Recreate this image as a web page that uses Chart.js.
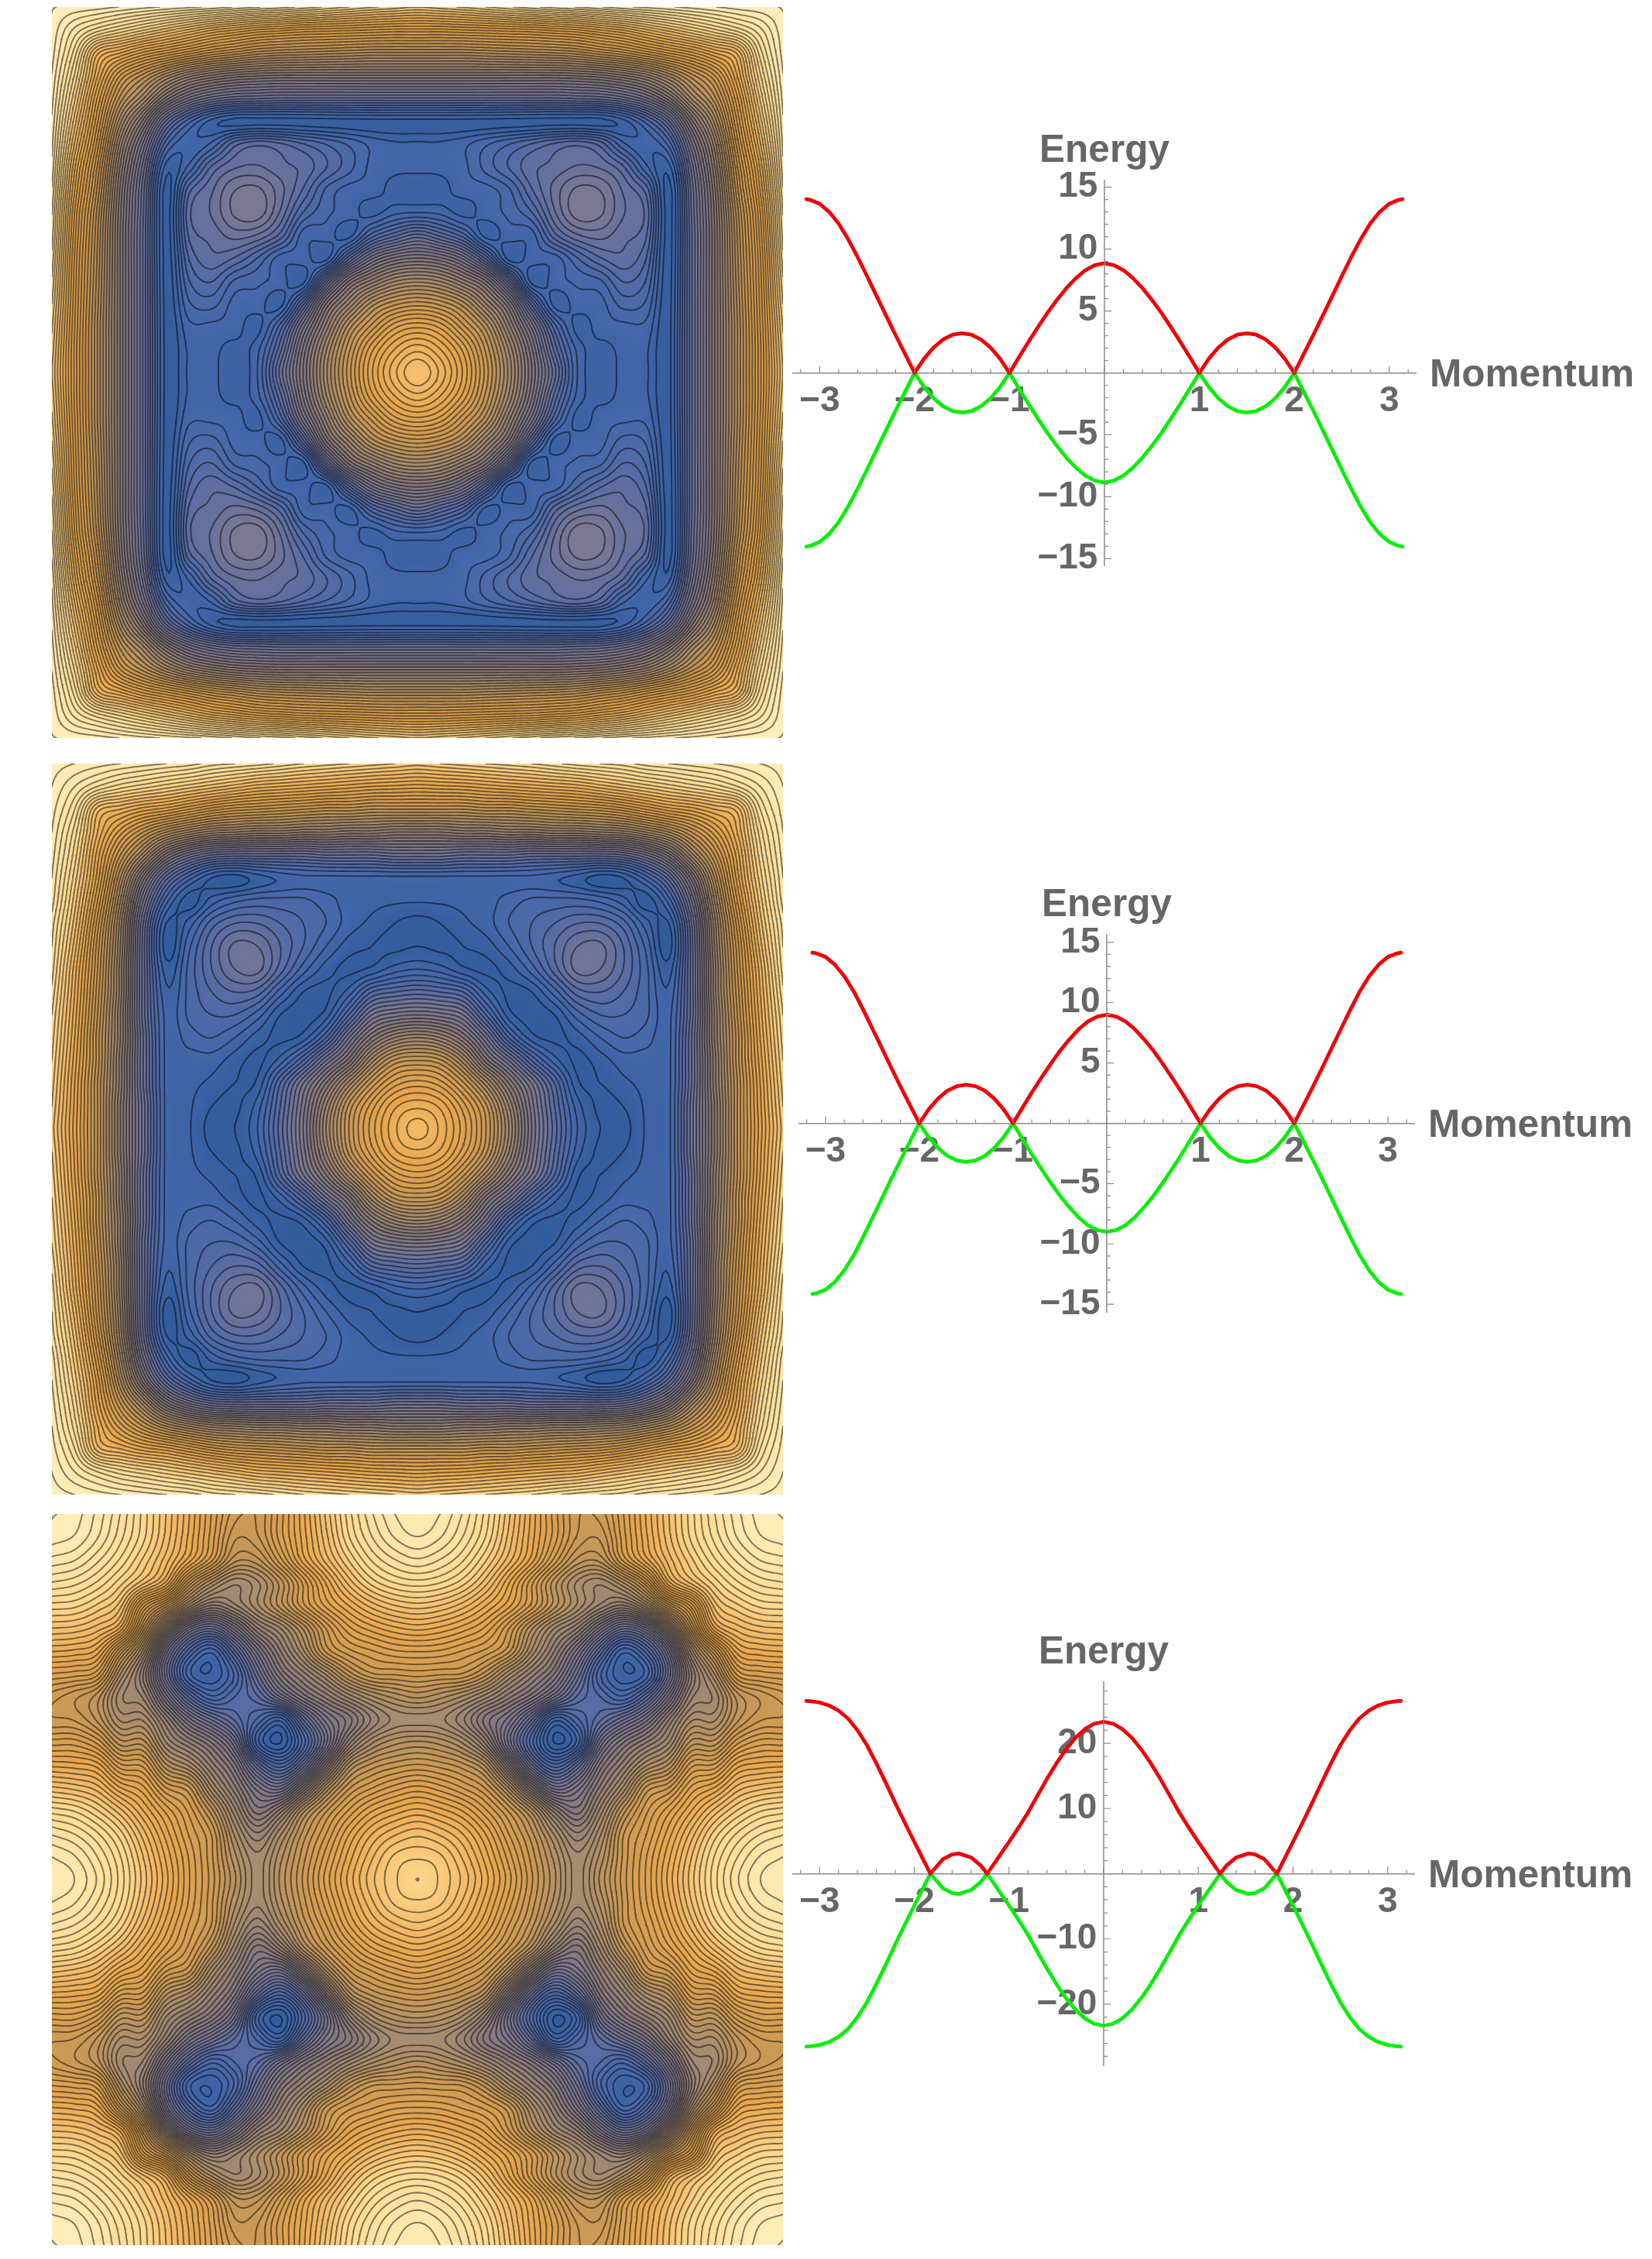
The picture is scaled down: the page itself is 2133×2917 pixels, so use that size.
<!DOCTYPE html>
<html>
<head>
<meta charset="utf-8">
<title>Energy bands</title>
<script src="https://cdn.jsdelivr.net/npm/chart.js@4/dist/chart.umd.js"></script>
<style>
html, body { margin: 0; background: #fff; }
body { position: relative; width: 2133px; height: 2917px; overflow: hidden; }
canvas { position: absolute; }
</style>
</head>
<body>
<canvas id="fieldA"></canvas>
<canvas id="fieldB"></canvas>
<canvas id="fieldC"></canvas>
<canvas id="bandsA"></canvas>
<canvas id="bandsB"></canvas>
<canvas id="bandsC"></canvas>
<script>
// Band curves, read for momentum >= 0 (the plots are mirror symmetric)
const momentumAB = [0,0.1,0.2,0.3,0.4,0.5,0.6,0.7,0.8,0.9,1,1.1,1.2,1.3,1.4,1.5,1.6,1.7,1.8,1.9,2,2.1,2.2,2.3,2.4,2.5,2.6,2.7,2.8,2.9,3,3.1,3.14];
const energyA = [8.85,8.7,8.3,7.65,6.85,5.9,4.85,3.7,2.5,1.27,0,1.15,2.05,2.7,3.08,3.2,3.08,2.7,2.05,1.15,0,1.52,3.05,4.62,6.2,7.8,9.35,10.8,12.05,13,13.65,13.97,14.03];
const energyB = [9,8.85,8.45,7.8,6.95,6,4.9,3.75,2.55,1.28,0,1.15,2.05,2.7,3.08,3.2,3.08,2.7,2.05,1.15,0,1.52,3.05,4.62,6.25,7.85,9.45,10.95,12.2,13.15,13.8,14.1,14.15];
const momentumC = [0,0.1,0.2,0.3,0.4,0.5,0.6,0.7,0.8,0.9,1,1.1,1.23,1.3,1.4,1.53,1.6,1.7,1.83,1.9,2,2.1,2.2,2.3,2.4,2.5,2.6,2.7,2.8,2.9,3,3.1,3.14];
const energyC = [23.3,23,22.15,20.8,19,16.9,14.5,11.95,9.35,7.05,4.85,2.75,0,1.3,2.5,3.1,2.95,2.2,0,2,4.9,7.8,10.8,13.9,16.9,19.7,22,23.8,25,25.8,26.25,26.45,26.5];

// Contour plot heights, 0-100, one triangle of the panel from the top-left corner to the centre
const heightA = [
  [100,99.5,99,98,97,96,95,94,92.5,91,90,88.5,87,85.5,84,83,82],
  [94,90,87,84,81,78,75,73,71,70,69,68.5,68,67.5,67,67],
  [77,73,69,66,63,60,58,56,55,54.5,54,53.5,53,53,53],
  [62,56,50,45,42,40,39,38.5,38.5,38.5,38.5,38.5,38.5,38.5],
  [48,38,31,27,25,24.5,24,24,24,24,24,24,24],
  [24,16,11,9.2,9.2,9.2,9.2,9.2,9.2,9.2,9.2,9.2],
  [12,14,20,22,21,19,17,15,13,12,12],
  [21,24,24.5,23,22,19,16,13,12.2,12.2],
  [27.8,28.3,25,20.5,15,12.8,12.6,11,10.5],
  [29,24,17,14,12.6,11,13,13.5],
  [20,12.6,12.6,11,18,22,25],
  [12.6,11,22,31,35.5,37],
  [25,37,43,47.5,49],
  [46,54,58,59.5],
  [61,67,69],
  [73,76],
  [80]
];
const heightB = [
  [100,99,98,97,96,95,94,92,91,90,88.5,87,86,85,84,83,82],
  [95,91,88,86,84,82,80,78,76,75,74,73,72,71,70.5,70],
  [78,75,72,70,67,64,62,61,60,59,58,58,57,57,57],
  [66,59,53,49,46,45,44,44,43,43,42,42,41,41],
  [48,36,29,25,24,24,24,24,25,25,25,26,26],
  [22,14,9,8,10,11.5,12.4,12.4,12.4,12.4,12.4,12.4],
  [8,12,14.5,15.6,15.6,15.4,14,12,11.6,11.3,11.2],
  [18,21,21,19,17,15,12,10.5,9,8.2],
  [25.5,25,21,17,13,10,9,8.5,9],
  [25.7,20,14,10,8.5,9.5,12,13],
  [14,9,8.5,12,19,21,22],
  [8,10,19,29,32,33],
  [17,29,39,45,47],
  [38,50,57.5,59],
  [59.5,66,68],
  [72.5,74.5],
  [78]
];
const heightC = [
  [100,99,96,91.5,86,80,73.6,66.7,61,60.5,66,73,80.5,87.6,93,96.5,98],
  [98,95,90.5,85.5,79.5,73,66,59,60,66,72.5,79.5,86.5,91.5,95,96.5],
  [92,88,83,77.5,71,64,56,56.5,63,71,77.5,83.5,88.5,91.5,93],
  [84,79,73,60,52,47.5,50,56,64,72,79,84,86.7,87.6],
  [66,58,48,42,45,50,56,63,69,73.5,77.5,80,81],
  [42,30,26,33,42,47,54,62,68,71,73,74],
  [18,13,22,33,42,50,59,63,65,66.6,67],
  [11,16,27,37,43,49,56,60,60.5,61],
  [19,22,29,36,41,46,50,52.5,54],
  [17,13,24,33,38,44,47.5,48],
  [9,18,30,43,50,53,54],
  [26,40,53,57.5,59.5,60.5],
  [52,60,63.5,66,67.5],
  [65.5,70,72.5,74],
  [75,78,79.5],
  [82,83],
  [85]
];
const contourStepA = 1.8;
const contourStepB = 2;
const contourStepC = 1.65;

// Colour ramp of the contour plots
const rampHeights = [0,8,13,20,28,38,47,60,72,80,86,95,100];
const rampColors = [[29,92,152],[50,92,156],[68,104,170],[88,108,165],[122,120,150],[135,122,125],[163,139,114],[205,154,85],[232,168,80],[245,192,112],[255,217,142],[255,229,168],[255,238,187]];

const labelGray = '#666666';
const axisGray = '#8a8a8a';
const bandRed = '#f00008';
const bandGreen = '#08ee08';

function rampColor(h) {
    let k = 0;
    while (k < rampHeights.length - 2 && h > rampHeights[k + 1]) k++;
    const t = Math.min(1, Math.max(0, (h - rampHeights[k]) / (rampHeights[k + 1] - rampHeights[k])));
    return rampColors[k].map((c, n) => c + (rampColors[k + 1][n] - c) * t);
}

// Whole 33x33 grid from the triangle
function fullGrid(tri) {
    const fold = i => (i <= 16 ? i : 32 - i);
    return (r, c) => {
        const a = fold(r), b = fold(c);
        return a <= b ? tri[a][b - a] : tri[b][a - b];
    };
}

function catmull(p0, p1, p2, p3, t) {
    return 0.5 * (2 * p1 + (p2 - p0) * t + (2 * p0 - 5 * p1 + 4 * p2 - p3) * t * t + (3 * p1 - p0 - 3 * p2 + p3) * t * t * t);
}

// Smooth field between the read values, only used for painting
function fineField(tri, sub) {
    const grid = fullGrid(tri);
    const at = (r, c) => {
        if (r < 0) return 2 * at(0, c) - at(-r, c);
        if (r > 32) return 2 * at(32, c) - at(64 - r, c);
        if (c < 0) return 2 * at(r, 0) - at(r, -c);
        if (c > 32) return 2 * at(r, 32) - at(r, 64 - c);
        return grid(r, c);
    };
    const n = 32 * sub + 1;
    const out = new Float32Array(n * n);
    for (let j = 0; j < n; j++) {
        const r0 = Math.min(31, Math.floor(j / sub)), tr = j / sub - r0;
        for (let i = 0; i < n; i++) {
            const c0 = Math.min(31, Math.floor(i / sub)), tc = i / sub - c0;
            const rows = [-1, 0, 1, 2].map(d => catmull(at(r0 + d, c0 - 1), at(r0 + d, c0), at(r0 + d, c0 + 1), at(r0 + d, c0 + 2), tc));
            out[j * n + i] = catmull(rows[0], rows[1], rows[2], rows[3], tr);
        }
    }
    return { n, values: out };
}

// Marching squares, gives a line dataset in axis units
function contourPoints(field, step) {
    const { n, values } = field;
    const pts = [];
    const toX = i => -1 + 2 * i / (n - 1);
    const toY = j => 1 - 2 * j / (n - 1);
    for (let level = step / 2; level < 100; level += step) {
        for (let j = 0; j < n - 1; j++) {
            for (let i = 0; i < n - 1; i++) {
                const a = values[j * n + i], b = values[j * n + i + 1];
                const c = values[(j + 1) * n + i + 1], d = values[(j + 1) * n + i];
                const hits = [];
                if ((a < level) !== (b < level)) hits.push({ x: toX(i + (level - a) / (b - a)), y: toY(j) });
                if ((b < level) !== (c < level)) hits.push({ x: toX(i + 1), y: toY(j + (level - b) / (c - b)) });
                if ((d < level) !== (c < level)) hits.push({ x: toX(i + (level - d) / (c - d)), y: toY(j + 1) });
                if ((a < level) !== (d < level)) hits.push({ x: toX(i), y: toY(j + (level - a) / (d - a)) });
                for (let h = 0; h + 1 < hits.length; h += 2) {
                    pts.push(hits[h], hits[h + 1], { x: NaN, y: NaN });
                }
            }
        }
    }
    return pts;
}

// Paints the smooth colours over the cell points, through the chart scales
const smoothCells = {
    id: 'smoothCells',
    afterDatasetDraw(chart, args, opts) {
        if (args.index !== 1) return;
        const { n, values } = opts.field;
        const off = document.createElement('canvas');
        off.width = n; off.height = n;
        const octx = off.getContext('2d');
        const img = octx.createImageData(n, n);
        for (let k = 0; k < values.length; k++) {
            const col = rampColor(values[k]);
            img.data[k * 4] = col[0]; img.data[k * 4 + 1] = col[1]; img.data[k * 4 + 2] = col[2]; img.data[k * 4 + 3] = 255;
        }
        octx.putImageData(img, 0, 0);
        const { x, y } = chart.scales;
        const ctx = chart.ctx;
        ctx.save();
        ctx.imageSmoothingEnabled = true;
        ctx.drawImage(off, x.getPixelForValue(-1), y.getPixelForValue(1), x.getPixelForValue(1) - x.getPixelForValue(-1), y.getPixelForValue(-1) - y.getPixelForValue(1));
        ctx.restore();
    }
};

function drawField(id, top, tri, step) {
    const size = 944;
    const canvas = document.getElementById(id);
    canvas.width = size; canvas.height = size;
    canvas.style.left = '67px'; canvas.style.top = top + 'px';
    const grid = fullGrid(tri);
    const cells = [], colors = [];
    for (let r = 0; r <= 32; r++) {
        for (let c = 0; c <= 32; c++) {
            cells.push({ x: -1 + c / 16, y: 1 - r / 16 });
            const col = rampColor(grid(r, c));
            colors.push(`rgb(${col.map(Math.round).join(',')})`);
        }
    }
    const field = fineField(tri, 8);
    new Chart(canvas, {
        type: 'scatter',
        plugins: [smoothCells],
        data: {
            datasets: [
                { data: contourPoints(field, step), showLine: true, spanGaps: false, pointRadius: 0, borderColor: 'rgba(0,0,0,0.5)', borderWidth: 1.9, borderCapStyle: 'round' },
                { data: cells, pointStyle: 'rect', pointRadius: size / 32 * 0.75, pointBorderWidth: 0, pointBackgroundColor: colors }
            ]
        },
        options: {
            responsive: false,
            animation: false,
            events: [],
            layout: { padding: 0, autoPadding: false },
            plugins: { legend: { display: false }, tooltip: { enabled: false }, smoothCells: { field } },
            scales: {
                x: { display: false, min: -1, max: 1 },
                y: { display: false, min: -1, max: 1 }
            }
        }
    });
}

// Tick marks sit on the inner side in the original, and the axis names are at the ends
const axisDecor = {
    id: 'axisDecor',
    afterDraw(chart, args, opts) {
        const { x, y } = chart.scales;
        const ctx = chart.ctx;
        const x0 = x.getPixelForValue(0), y0 = y.getPixelForValue(0);
        ctx.save();
        ctx.strokeStyle = axisGray;
        ctx.lineWidth = 1.5;
        ctx.beginPath();
        ctx.moveTo(x0, y.top); ctx.lineTo(x0, y.bottom);
        ctx.stroke();
        ctx.lineWidth = 1.2;
        ctx.beginPath();
        x.ticks.forEach(t => {
            const whole = Math.abs(t.value - Math.round(t.value)) < 1e-6;
            const px = x.getPixelForValue(t.value);
            ctx.moveTo(px, y0); ctx.lineTo(px, y0 - (whole ? 9 : 5));
        });
        y.ticks.forEach(t => {
            const whole = Math.abs(t.value / opts.major - Math.round(t.value / opts.major)) < 1e-6;
            const py = y.getPixelForValue(t.value);
            ctx.moveTo(x0, py); ctx.lineTo(x0 + (whole ? 9 : 5), py);
        });
        ctx.stroke();
        ctx.fillStyle = labelGray;
        ctx.font = 'bold 49.5px "Liberation Sans"';
        ctx.textAlign = 'center';
        ctx.textBaseline = 'alphabetic';
        ctx.fillText('Energy', x0, y.top - 23);
        ctx.textAlign = 'left';
        ctx.fillText('Momentum', x.right + 18, y0 + 17);
        ctx.restore();
    }
};

function minusLabel(v) {
    return v < 0 ? '\u2212' + Math.abs(v) : String(v);
}

function drawBands(id, box, momentum, energy, major, minor) {
    const left = 1012, width = 1121;
    const canvas = document.getElementById(id);
    canvas.width = width; canvas.height = box.canvasBottom - box.canvasTop;
    canvas.style.left = left + 'px'; canvas.style.top = box.canvasTop + 'px';
    const rightSide = momentum.map((m, k) => ({ x: m, y: energy[k] }));
    const leftSide = rightSide.slice(1).reverse().map(p => ({ x: -p.x, y: p.y }));
    const upper = leftSide.concat(rightSide);
    const lower = upper.map(p => ({ x: p.x, y: -p.y }));
    new Chart(canvas, {
        type: 'scatter',
        plugins: [axisDecor],
        data: {
            datasets: [
                { data: upper, showLine: true, pointRadius: 0, borderColor: bandRed, borderWidth: 4.8, borderCapStyle: 'round', borderJoinStyle: 'round', clip: false },
                { data: lower, showLine: true, pointRadius: 0, borderColor: bandGreen, borderWidth: 4.8, borderCapStyle: 'round', borderJoinStyle: 'round', clip: false }
            ]
        },
        options: {
            responsive: false,
            animation: false,
            events: [],
            layout: {
                autoPadding: false,
                padding: {
                    left: box.left - left,
                    right: left + width - box.right,
                    top: box.top - box.canvasTop,
                    bottom: box.canvasBottom - box.bottom
                }
            },
            plugins: { legend: { display: false }, tooltip: { enabled: false }, axisDecor: { major } },
            scales: {
                x: {
                    type: 'linear',
                    position: { y: 0 },
                    min: -box.xRange, max: box.xRange,
                    grid: { display: false, drawTicks: false },
                    border: { display: true, color: axisGray, width: 1.5 },
                    ticks: {
                        stepSize: 0.2, includeBounds: false, autoSkip: false, maxRotation: 0, minRotation: 0, padding: 9,
                        color: labelGray, font: { family: 'Liberation Sans', weight: 'bold', size: 46 },
                        callback: v => (Math.abs(v - Math.round(v)) < 1e-6 && Math.round(v) !== 0 ? minusLabel(Math.round(v)) : '')
                    }
                },
                y: {
                    type: 'linear',
                    // pushed a little left of x = 0 so the labels clear the axis line drawn in axisDecor
                    position: { x: -0.07 },
                    min: -box.yRange, max: box.yRange,
                    grid: { display: false, drawTicks: false },
                    border: { display: false },
                    ticks: {
                        stepSize: minor, includeBounds: false, autoSkip: false,
                        color: labelGray, font: { family: 'Liberation Sans', weight: 'bold', size: 46 },
                        callback: v => (v !== 0 && Math.abs(v / major - Math.round(v / major)) < 1e-6 ? minusLabel(Math.round(v)) : '')
                    }
                }
            }
        }
    });
}

drawField('fieldA', 9, heightA, contourStepA);
drawField('fieldB', 986, heightB, contourStepB);
drawField('fieldC', 1955, heightC, contourStepC);

drawBands('bandsA', { canvasTop: 150, canvasBottom: 775, left: 1024, right: 1828, top: 232, bottom: 731, xRange: 3.28, yRange: 15.6 }, momentumAB, energyA, 5, 1);
drawBands('bandsB', { canvasTop: 1125, canvasBottom: 1745, left: 1032, right: 1826, top: 1206, bottom: 1695, xRange: 3.28, yRange: 15.7 }, momentumAB, energyB, 5, 1);
drawBands('bandsC', { canvasTop: 2095, canvasBottom: 2700, left: 1024, right: 1826, top: 2171, bottom: 2668, xRange: 3.28, yRange: 29.5 }, momentumC, energyC, 10, 2);
</script>
</body>
</html>
